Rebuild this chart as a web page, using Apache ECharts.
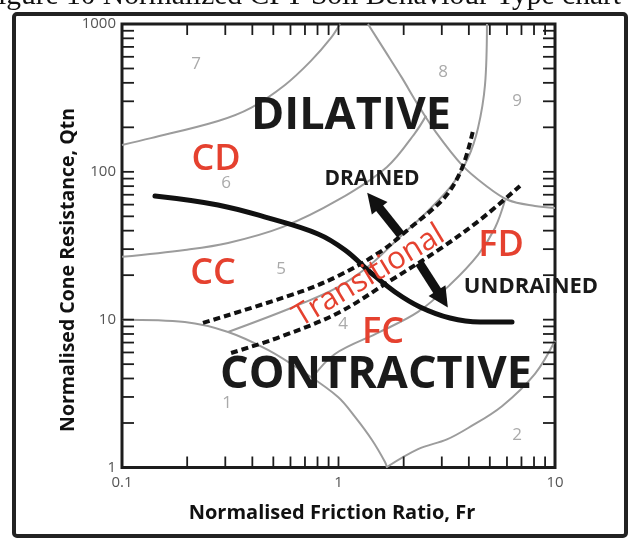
<!DOCTYPE html>
<html>
<head>
<meta charset="utf-8">
<script src="https://cdn.jsdelivr.net/npm/echarts/dist/echarts.min.js"></script>
<style>
  html, body { margin: 0; padding: 0; background: #fff; }
  #chart { width: 630px; height: 539px; }
</style>
</head>
<body>
<div id="chart"></div>
<script>
// ---------- data (Fr, Qtn) ----------
const xTickLabels = [0.1, 1, 10];
const yTickLabels = [1, 10, 100, 1000];
const xMinorTicks = [0.2,0.3,0.4,0.5,0.6,0.7,0.8,0.9,1,2,3,4,5,6,7,8,9];
const yMinorTicks = [2,3,4,5,6,7,8,9,10,20,30,40,50,60,70,80,90,100,200,300,400,500,600,700,800,900];

const zone7Boundary = [[0.1,152],[0.136,169],[0.278,221],[0.394,271],[0.566,387],[0.746,563],[0.923,805],[1.016,1000]];
const zone6Boundary = [[0.1,26.6],[0.195,29.6],[0.309,33.0],[0.554,42.4],[0.995,64.5],[1.675,108],[2.256,183],[2.54,240]];
const zone8Boundary = [[1.368,1000],[1.64,658],[1.965,432],[2.329,284],[2.791,189],[3.72,111],[4.75,81.5],[6.07,64.5],[8.08,58.8],[10,57]];
const zone5Boundary = [[0.309,8.26],[0.6035,12.0],[0.995,16.6],[1.398,23.4],[1.965,37.4],[2.59,54.4],[3.344,81.5],[3.965,124],[4.41,198],[4.75,387],[4.85,1000]];
const zone1Boundary = [[0.1,10],[0.195,9.65],[0.309,8.26],[0.472,6.24],[0.70,4.36],[0.995,3.0],[1.192,2.2],[1.428,1.535],[1.64,1.09],[1.675,1]];
const zone2Boundary = [[1.66,1],[2.33,1.33],[3.17,1.55],[3.97,1.85],[5.69,2.6],[8.08,4.3],[10,7.2]];
const zone3Boundary = [[0.755,4.03],[0.963,5.86],[1.555,8.26],[2.329,11.28],[3.273,17.2],[4.41,27.4],[5.28,41.7],[5.88,64.5]];
const transitionalUpper = [[0.2366,9.5],[0.664,15.4],[0.995,19.76],[1.555,28.7],[2.139,41.7],[3.104,67.6],[3.72,106],[4.18,189]];
const transitionalLower = [[0.319,5.95],[0.537,7.64],[0.995,11.1],[1.729,18.3],[2.943,30.1],[4.505,47.3],[6.89,80.3]];
const cdFcBoundary = [[0.142,68.7],[0.2776,59.7],[0.4724,48.8],[0.804,38.0],[1.071,29.6],[1.398,21.0],[1.824,15.4],[2.379,12.2],[3.273,10.27],[4.505,9.65],[6.33,9.65]];
const drainedArrow = [[1.94,37.5],[1.45,64.0]];
const undrainedArrow = [[2.36,24.2],[3.02,13.8]];

// ---------- chart ----------
const chart = echarts.init(document.getElementById('chart'), null, { renderer: 'canvas' });
const FONT = '"Open Sans", "Noto Sans", sans-serif';
const RED = '#e5412f';
const GRAY = '#9c9c9c';

function grayLine(data) {
  return { type: 'line', data: data, smooth: 0.35, showSymbol: false, silent: true, z: 2,
    lineStyle: { color: GRAY, width: 2 } };
}

function txt(text, x, y, font, fill, extra) {
  return Object.assign({ type: 'text', x: x, y: y, z: 100,
    style: { text: text, font: font, fill: fill, textAlign: 'center', textVerticalAlign: 'middle' } }, extra || {});
}

const option = {
  backgroundColor: '#fff',
  animation: false,
  grid: { left: 122, top: 24, width: 433, height: 443.5, show: true, borderColor: '#1c1c1c', borderWidth: 3, backgroundColor: 'transparent' },
  xAxis: {
    type: 'log', logBase: 10, min: 0.1, max: 10,
    axisLine: { show: false }, axisTick: { show: false }, splitLine: { show: false },
    axisLabel: { color: '#555', fontSize: 15, fontFamily: FONT, margin: 8,
      formatter: v => (xTickLabels.some(t => Math.abs(t - v) / t < 1e-6) ? String(v) : '') }
  },
  yAxis: {
    type: 'log', logBase: 10, min: 1, max: 1000,
    axisLine: { show: false }, axisTick: { show: false }, splitLine: { show: false },
    axisLabel: { color: '#555', fontSize: 15, fontFamily: FONT, margin: 6,
      formatter: v => (yTickLabels.some(t => Math.abs(t - v) / t < 1e-6) ? String(v) : '') }
  },
  series: [
    grayLine(zone7Boundary),
    grayLine(zone6Boundary),
    grayLine(zone8Boundary),
    grayLine(zone5Boundary),
    grayLine(zone1Boundary),
    grayLine(zone2Boundary),
    grayLine(zone3Boundary),
    { type: 'line', data: transitionalUpper, smooth: 0.35, showSymbol: false, z: 4,
      lineStyle: { color: '#111', width: 4, type: [7, 4] } },
    { type: 'line', data: transitionalLower, smooth: 0.35, showSymbol: false, z: 4,
      lineStyle: { color: '#111', width: 4, type: [7, 4] } },
    { type: 'line', data: cdFcBoundary, smooth: 0.4, showSymbol: false, z: 5,
      lineStyle: { color: '#111', width: 5, cap: 'round' } },
    { type: 'lines', coordinateSystem: 'cartesian2d', z: 6,
      symbol: ['none', 'triangle'], symbolSize: [25, 20],
      lineStyle: { color: '#111', width: 9, opacity: 1 },
      data: [ { coords: drainedArrow }, { coords: undrainedArrow } ] },
    { type: 'custom', coordinateSystem: 'cartesian2d', z: 8, silent: true, clip: false,
      data: xMinorTicks.map(v => [v, 1]),
      renderItem: (params, api) => {
        const b = api.coord([api.value(0), 1]);
        const t = api.coord([api.value(0), 1000]);
        return { type: 'group', children: [
          { type: 'line', shape: { x1: b[0], y1: b[1], x2: b[0], y2: b[1] - 11 }, style: { stroke: '#1c1c1c', lineWidth: 1.8 } },
          { type: 'line', shape: { x1: t[0], y1: t[1], x2: t[0], y2: t[1] + 11 }, style: { stroke: '#1c1c1c', lineWidth: 1.8 } }
        ] };
      } },
    { type: 'custom', coordinateSystem: 'cartesian2d', z: 8, silent: true, clip: false,
      data: yMinorTicks.map(v => [0.1, v]),
      renderItem: (params, api) => {
        const l = api.coord([0.1, api.value(1)]);
        const r = api.coord([10, api.value(1)]);
        return { type: 'group', children: [
          { type: 'line', shape: { x1: l[0], y1: l[1], x2: l[0] + 12, y2: l[1] }, style: { stroke: '#1c1c1c', lineWidth: 1.8 } },
          { type: 'line', shape: { x1: r[0], y1: r[1], x2: r[0] - 12, y2: r[1] }, style: { stroke: '#1c1c1c', lineWidth: 1.8 } }
        ] };
      } }
  ],
  graphic: [
    { type: 'rect', z: 0, shape: { x: 14, y: 14, width: 612, height: 522, r: 3 },
      style: { fill: 'none', stroke: '#222', lineWidth: 4 } },
    { type: 'text', x: 621, y: 11, z: 100,
      style: { text: 'Figure 10 Normalized CPT Soil Behaviour Type chart', font: '29.5px "Liberation Serif", serif',
        fill: '#111', textAlign: 'right', textVerticalAlign: 'bottom' } },
    txt('Normalised Friction Ratio, Fr', 332, 513, 'bold 20px ' + FONT, '#111'),
    txt('Normalised Cone Resistance, Qtn', 68, 270, 'bold 19.5px ' + FONT, '#111', { rotation: Math.PI / 2 }),
    txt('DILATIVE', 351, 116, 'bold 45px ' + FONT, '#1a1a1a'),
    txt('CONTRACTIVE', 376, 375, 'bold 45px ' + FONT, '#1a1a1a'),
    txt('CD', 216, 160, '600 36px ' + FONT, RED),
    txt('CC', 213, 274, '600 36px ' + FONT, RED),
    txt('FD', 501, 246, '600 36px ' + FONT, RED),
    txt('FC', 383, 333, '600 36px ' + FONT, RED),
    txt('Transitional', 369, 276, '31px ' + FONT, RED, { rotation: 0.54 }),
    txt('DRAINED', 372, 179, 'bold 21px ' + FONT, '#1a1a1a'),
    txt('UNDRAINED', 531, 287, 'bold 22px ' + FONT, '#1a1a1a'),
    txt('7', 196, 64, '17px ' + FONT, '#aaa', { z: 3 }),
    txt('8', 443, 72, '17px ' + FONT, '#aaa', { z: 3 }),
    txt('9', 517, 101, '17px ' + FONT, '#aaa', { z: 3 }),
    txt('6', 226, 183, '17px ' + FONT, '#aaa', { z: 3 }),
    txt('5', 281, 269, '17px ' + FONT, '#aaa', { z: 3 }),
    txt('4', 343, 324, '17px ' + FONT, '#aaa', { z: 3 }),
    txt('1', 227, 403, '17px ' + FONT, '#aaa', { z: 3 }),
    txt('2', 517, 435, '17px ' + FONT, '#aaa', { z: 3 })
  ]
};
chart.setOption(option);
</script>
</body>
</html>
